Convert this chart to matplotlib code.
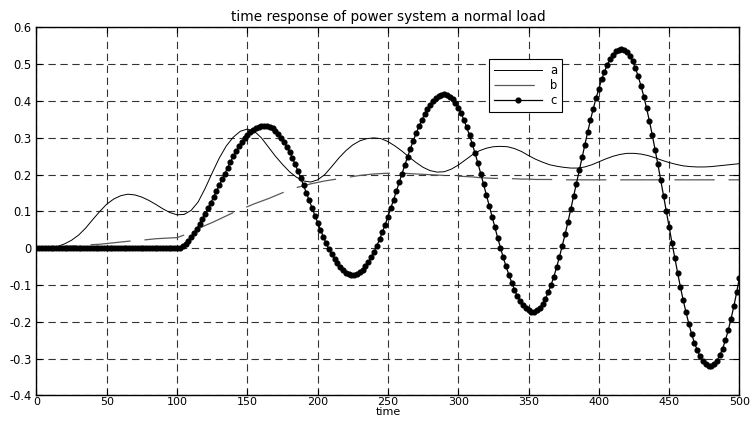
import numpy as np
import matplotlib
matplotlib.use("Agg")
import matplotlib.pyplot as plt

plt.rcParams['font.family'] = ['DejaVu Sans']
plt.rcParams['lines.scale_dashes'] = False

# series a and b, read every 5 time units
t_ab = np.arange(0, 501, 5)
a_vals = [0.000, 0.000, 0.001, 0.005, 0.012, 0.022, 0.036, 0.055, 0.078, 0.100,
          0.120, 0.134, 0.143, 0.147, 0.145, 0.139, 0.130, 0.119, 0.107, 0.097,
          0.091, 0.092, 0.103, 0.126, 0.163, 0.205, 0.245, 0.278, 0.302, 0.318,
          0.324, 0.318, 0.300, 0.275, 0.250, 0.228, 0.208, 0.193, 0.183, 0.180,
          0.186, 0.200, 0.222, 0.245, 0.265, 0.281, 0.292, 0.298, 0.300, 0.298,
          0.290, 0.278, 0.264, 0.248, 0.233, 0.220, 0.211, 0.207, 0.208, 0.215,
          0.226, 0.240, 0.254, 0.265, 0.272, 0.276, 0.277, 0.276, 0.271, 0.263,
          0.252, 0.242, 0.234, 0.227, 0.223, 0.220, 0.218, 0.218, 0.221, 0.227,
          0.235, 0.243, 0.250, 0.255, 0.258, 0.258, 0.256, 0.252, 0.246, 0.239,
          0.233, 0.228, 0.224, 0.222, 0.221, 0.221, 0.222, 0.224, 0.226, 0.228,
          0.230]
b_vals = [0.000, 0.001, 0.003, 0.004, 0.005, 0.006, 0.007, 0.008, 0.010, 0.011,
          0.013, 0.015, 0.017, 0.019, 0.021, 0.022, 0.024, 0.026, 0.027, 0.028,
          0.029, 0.036, 0.045, 0.053, 0.062, 0.070, 0.079, 0.088, 0.097, 0.105,
          0.113, 0.121, 0.128, 0.135, 0.143, 0.151, 0.158, 0.165, 0.170, 0.175,
          0.179, 0.183, 0.186, 0.189, 0.192, 0.195, 0.198, 0.200, 0.202, 0.203,
          0.204, 0.204, 0.204, 0.203, 0.202, 0.201, 0.200, 0.199, 0.198, 0.197,
          0.196, 0.195, 0.194, 0.192, 0.191, 0.190, 0.190, 0.189, 0.189, 0.188,
          0.188, 0.187, 0.187, 0.187, 0.186, 0.186, 0.186, 0.186, 0.186, 0.186,
          0.186, 0.186, 0.186, 0.186, 0.186, 0.186, 0.186, 0.186, 0.186, 0.186,
          0.186, 0.186, 0.186, 0.186, 0.186, 0.186, 0.186, 0.186, 0.186, 0.186,
          0.186]

# series c, read every 2 time units
t_c = np.arange(0, 501, 2)
c_vals = ([0.0] * 51 +
          [0.002, 0.006, 0.012, 0.020, 0.030, 0.041, 0.053, 0.066, 0.080, 0.094,
           0.109, 0.124, 0.139, 0.155, 0.171, 0.187, 0.203, 0.219, 0.235, 0.250,
           0.264, 0.277, 0.289, 0.300, 0.309, 0.316, 0.322, 0.327, 0.330, 0.332,
           0.333, 0.333,
           0.330, 0.326, 0.319, 0.311, 0.301, 0.290, 0.276, 0.262, 0.246, 0.228,
           0.210, 0.190, 0.171, 0.150, 0.130, 0.110, 0.089, 0.070, 0.050, 0.032,
           0.014, -0.002, -0.016, -0.030, -0.041, -0.051, -0.059, -0.066, -0.070, -0.072,
           -0.072, -0.069, -0.065, -0.058, -0.049, -0.038, -0.025, -0.010, 0.006, 0.024,
           0.044, 0.064, 0.086, 0.109, 0.132, 0.155, 0.179, 0.203, 0.226, 0.249,
           0.271, 0.292, 0.312, 0.331, 0.348, 0.364, 0.378, 0.390, 0.400, 0.408,
           0.413, 0.417, 0.418,
           0.417, 0.412, 0.405, 0.395, 0.382, 0.367, 0.349, 0.329, 0.307, 0.283,
           0.258, 0.231, 0.203, 0.174, 0.145, 0.116, 0.086, 0.057, 0.029, 0.002,
           -0.025, -0.049, -0.072, -0.093, -0.112, -0.129, -0.143, -0.154, -0.163, -0.169,
           -0.172,
           -0.172, -0.168, -0.161, -0.151, -0.137, -0.120, -0.100, -0.077, -0.051, -0.023,
           0.007, 0.038, 0.071, 0.106, 0.141, 0.176, 0.212, 0.247, 0.282, 0.315,
           0.348, 0.379, 0.408, 0.434, 0.459, 0.480, 0.499, 0.514, 0.526, 0.535,
           0.540, 0.542,
           0.540, 0.534, 0.523, 0.508, 0.490, 0.467, 0.441, 0.412, 0.380, 0.345,
           0.308, 0.268, 0.228, 0.186, 0.143, 0.100, 0.057, 0.015, -0.026, -0.066,
           -0.105, -0.141, -0.174, -0.205, -0.233, -0.257, -0.277, -0.294, -0.307, -0.315,
           -0.320,
           -0.319, -0.315, -0.305, -0.291, -0.273, -0.250, -0.223, -0.192, -0.158, -0.120,
           -0.080])

x_ticks = [0, 50, 100, 150, 200, 250, 300, 350, 400, 450, 500]
y_ticks = [-0.4, -0.3, -0.2, -0.1, 0, 0.1, 0.2, 0.3, 0.4, 0.5, 0.6]
y_labels = ['-0.4', '-0.3', '-0.2', '-0.1', '0', '0.1', '0.2', '0.3', '0.4', '0.5', '0.6']

fig = plt.figure(figsize=(7.52, 4.21), dpi=100)
# axes box: x 36.5..739.5 px, y 27.5..395.5 px
ax = fig.add_axes([0.0485, 0.0606, 0.9348, 0.8741])

ax.plot(t_ab, a_vals, color='k', lw=0.7, label='a')
ax.plot(t_ab, b_vals, color='0.35', lw=0.9, linestyle=(0, (29, 10)), label='b')
ax.plot(t_c, c_vals, color='k', lw=0.9, marker='o', ms=3.4, label='c')

ax.set_xlim(0, 500)
ax.set_ylim(-0.4, 0.6)
ax.set_xticks(x_ticks)
ax.set_yticks(y_ticks)
ax.set_yticklabels(y_labels)
ax.tick_params(direction='in', length=4, width=0.8, top=True, right=True,
               labelsize=8.3)
ax.tick_params(axis='x', pad=1.0, labelsize=8)
ax.tick_params(axis='y', pad=3.5)
ax.grid(True, color='0.2', lw=0.8, linestyle=(0, (5.3, 3.3)))
for s in ax.spines.values():
    s.set_linewidth(1.0)

ax.set_title('time response of power system a normal load', fontsize=9.8, pad=5)
ax.set_xlabel('time', fontsize=8, labelpad=0)

leg = ax.legend(loc='upper left', bbox_to_anchor=(321.8, 0.514),
                bbox_transform=ax.transData, fontsize=8.3,
                handlelength=4.2, handletextpad=0.7, borderpad=0.4,
                labelspacing=0.2, fancybox=False, framealpha=1,
                edgecolor='k', borderaxespad=0)
leg.get_frame().set_linewidth(0.8)

fig.savefig('out.png', dpi=100)
